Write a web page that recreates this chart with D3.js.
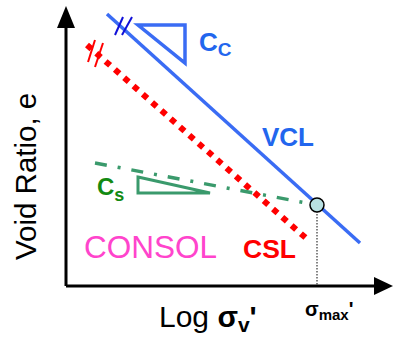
<!DOCTYPE html>
<html>
<head>
<meta charset="utf-8">
<script src="https://cdn.jsdelivr.net/npm/d3@7"></script>
<style>
  html, body { margin: 0; padding: 0; background: #fff; }
  svg { display: block; font-family: "Liberation Sans", Arial, sans-serif; }
</style>
</head>
<body>
<svg id="chart" width="398" height="343"></svg>
<script>
// Schematic e – log σv' consolidation diagram (abstract units along each axis)
const vclLine   = [[41, 272], [294, 43]];   // virgin compression line
const cslLine   = [[21, 241], [241, 47]];   // critical state line
const csLine    = [[29, 123], [251, 81]];   // unload / reload (swelling) line
const sigmaMax  = [251, 81];                // preconsolidation point
const ccTriangle = [[72, 261], [119, 261], [119, 223]];
const csTriangle = [[72, 109], [144, 93], [72, 93]];
const vclHatch = [[[49, 251], [57, 269]], [[56, 251], [66, 269]]];
const cslHatch = [[[22, 224], [29, 246]], [[29, 219], [37, 243]]];

const svg = d3.select("#chart");
const x = d3.scaleLinear().domain([0, 324]).range([66, 390]);
const y = d3.scaleLinear().domain([0, 278]).range([286, 8]);
const line = d3.line().x(d => x(d[0])).y(d => y(d[1]));

// Axes with arrowheads
const axisColor = "#000";
svg.append("line").attr("x1", x(0)).attr("y1", y(0)).attr("x2", x(0)).attr("y2", y(258))
  .attr("stroke", axisColor).attr("stroke-width", 3);
svg.append("line").attr("x1", x(0)).attr("y1", y(0)).attr("x2", x(308)).attr("y2", y(0))
  .attr("stroke", axisColor).attr("stroke-width", 3);
svg.append("path")
  .attr("d", `M${x(0)},${y(280)} L${x(0) - 9},${y(258)} L${x(0) + 9},${y(258)} Z`)
  .attr("fill", axisColor);
svg.append("path")
  .attr("d", `M${x(327)},${y(0)} L${x(308)},${y(0) - 9} L${x(308)},${y(0) + 9} Z`)
  .attr("fill", axisColor);

// Vertical dotted drop line from σmax' to the stress axis
svg.append("line")
  .attr("x1", x(sigmaMax[0])).attr("y1", y(sigmaMax[1]))
  .attr("x2", x(sigmaMax[0])).attr("y2", y(0))
  .attr("stroke", "#333").attr("stroke-width", 1.2).attr("stroke-dasharray", "1.5,1.5");

// CSL (red square dots)
svg.append("path").attr("d", line(cslLine))
  .attr("fill", "none").attr("stroke", "#ff0000").attr("stroke-width", 6)
  .attr("stroke-dasharray", "6,6.4");

// VCL (solid blue)
svg.append("path").attr("d", line(vclLine))
  .attr("fill", "none").attr("stroke", "#3a6cf4").attr("stroke-width", 3.5);

// Swelling line (green dash-dot)
svg.append("path").attr("d", line(csLine))
  .attr("fill", "none").attr("stroke", "#3a9a6c").attr("stroke-width", 3.5)
  .attr("stroke-dasharray", "12,11,3,11");

// Slope triangles
svg.append("path").attr("d", line(ccTriangle) + "Z")
  .attr("fill", "none").attr("stroke", "#3a6cf4").attr("stroke-width", 3.5)
  .attr("stroke-linejoin", "miter");
svg.append("path").attr("d", line(csTriangle) + "Z")
  .attr("fill", "none").attr("stroke", "#3a9a6c").attr("stroke-width", 3)
  .attr("stroke-linejoin", "miter");

// Break marks at the upper ends of the lines
vclHatch.forEach(seg => svg.append("path").attr("d", line(seg))
  .attr("stroke", "#1010d8").attr("stroke-width", 2));
cslHatch.forEach(seg => svg.append("path").attr("d", line(seg))
  .attr("stroke", "#ff0000").attr("stroke-width", 2));

// Preconsolidation point
svg.append("circle").attr("cx", x(sigmaMax[0])).attr("cy", y(sigmaMax[1])).attr("r", 7)
  .attr("fill", "#b8e0e2").attr("stroke", "#000").attr("stroke-width", 1.5);

// Labels
svg.append("text")
  .attr("transform", "translate(36,260) rotate(-90)")
  .attr("font-size", 29.5).attr("fill", "#000").text("Void Ratio, e");

const xLabel = svg.append("text").attr("x", 159).attr("y", 327).attr("font-size", 30).attr("fill", "#000");
xLabel.append("tspan").text("Log ");
xLabel.append("tspan").attr("font-weight", "bold").text("σ");
xLabel.append("tspan").attr("font-weight", "bold").attr("font-size", 21).attr("dy", 5).text("v");
xLabel.append("tspan").attr("font-weight", "bold").attr("dy", -5).text("'");

const smax = svg.append("text").attr("x", 305).attr("y", 316).attr("font-size", 20)
  .attr("font-weight", "bold").attr("fill", "#000");
smax.append("tspan").text("σ");
smax.append("tspan").attr("font-size", 15).attr("dy", 4).text("max");
smax.append("tspan").attr("dy", -4).text("'");

const cc = svg.append("text").attr("x", 199).attr("y", 51).attr("font-size", 26)
  .attr("font-weight", "bold").attr("fill", "#2266ee");
cc.append("tspan").text("C");
cc.append("tspan").attr("font-size", 19).attr("dy", 5).text("C");

const cs = svg.append("text").attr("x", 97).attr("y", 195).attr("font-size", 24)
  .attr("font-weight", "bold").attr("fill", "#128a12");
cs.append("tspan").text("C");
cs.append("tspan").attr("font-size", 18).attr("dy", 6).text("s");

svg.append("text").attr("x", 262).attr("y", 146).attr("font-size", 26)
  .attr("font-weight", "bold").attr("fill", "#2266ee").text("VCL");
svg.append("text").attr("x", 243).attr("y", 258).attr("font-size", 26.5)
  .attr("font-weight", "bold").attr("fill", "#ff0000").text("CSL");
svg.append("text").attr("x", 84).attr("y", 258).attr("font-size", 31.5)
  .attr("fill", "#ff44cc").text("CONSOL");
</script>
</body>
</html>
